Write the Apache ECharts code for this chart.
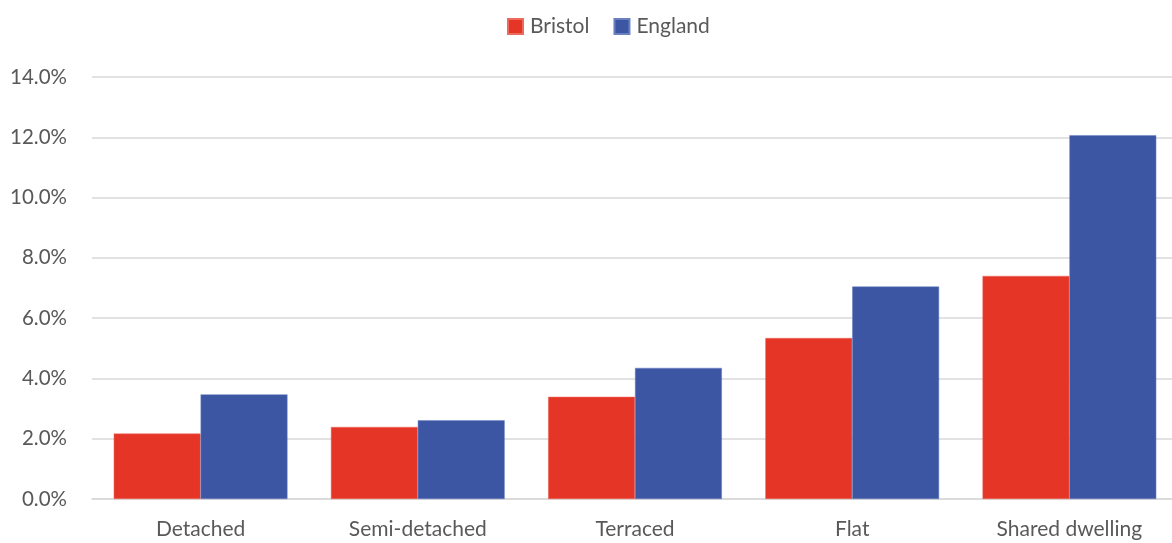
<!DOCTYPE html>
<html><head><meta charset="utf-8">
<script src="https://cdn.jsdelivr.net/npm/echarts@6/dist/echarts.min.js"></script>
<style>html,body{margin:0;padding:0;background:#fff;overflow:hidden;width:1172px;height:543px}#c{width:1178px;height:543px}</style>
</head><body><div id="c"></div>
<script>
const categories = ["Detached", "Semi-detached", "Terraced", "Flat", "Shared dwelling"];
const bristol = [2.17, 2.39, 3.39, 5.34, 7.40];
const england = [3.47, 2.61, 4.35, 7.05, 12.07];
const yTicks = { min: 0, max: 14, interval: 2 };

const chart = echarts.init(document.getElementById('c'));
const font = 'Lato, "Open Sans", sans-serif';
chart.setOption({
  animation: false,
  textStyle: { fontFamily: font },
  legend: {
    top: 11, left: 502, itemWidth: 15, itemHeight: 15, itemGap: 24,
    textStyle: { fontSize: 21, color: '#595959', fontFamily: font, padding: [0, 0, 0, 2] },
    icon: 'rect',
    data: ['Bristol', 'England']
  },
  grid: { left: 92, right: 0, top: 77, bottom: 44 },
  xAxis: {
    type: 'category', data: categories,
    axisLine: { show: true, lineStyle: { color: '#d9d9d9', width: 1.5 } },
    axisTick: { show: false },
    axisLabel: { fontSize: 21, color: '#595959', margin: 20, fontFamily: font }
  },
  yAxis: {
    type: 'value', min: yTicks.min, max: yTicks.max, interval: yTicks.interval,
    axisLine: { show: false }, axisTick: { show: false },
    splitLine: { lineStyle: { color: '#d9d9d9', width: 1.5 } },
    axisLabel: { fontSize: 20.5, color: '#595959', margin: 25, fontFamily: font,
      formatter: v => v.toFixed(1) + '%' }
  },
  series: [
    { name: 'Bristol', type: 'bar', data: bristol, barGap: '0%', barCategoryGap: '20%',
      itemStyle: { color: '#E43526', borderColor: '#EE6a5e', borderWidth: 0.5 } },
    { name: 'England', type: 'bar', data: england, barGap: '0%', barCategoryGap: '20%',
      itemStyle: { color: '#3C56A4', borderColor: '#6a80c0', borderWidth: 0.5 } }
  ]
});
</script></body></html>
